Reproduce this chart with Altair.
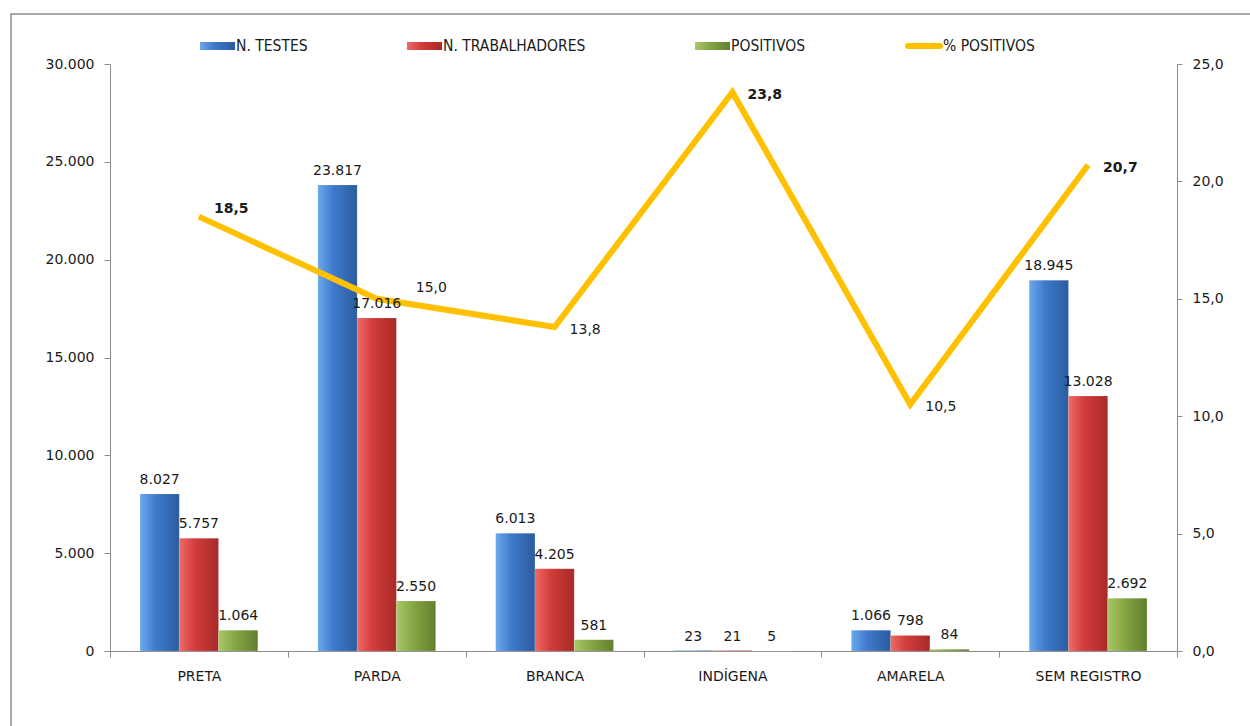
import altair as alt
import pandas as pd

# ---- data ----
categories = ["PRETA", "PARDA", "BRANCA", "INDÍGENA", "AMARELA", "SEM REGISTRO"]
n_testes = [8027, 23817, 6013, 23, 1066, 18945]
n_trabalhadores = [5757, 17016, 4205, 21, 798, 13028]
positivos = [1064, 2550, 581, 5, 84, 2692]
pct_positivos = [18.5, 15.0, 13.8, 23.8, 10.5, 20.7]
series_names = ["N. TESTES", "N. TRABALHADORES", "POSITIVOS"]
line_name = "% POSITIVOS"
bold_categories = ["PRETA", "INDÍGENA", "SEM REGISTRO"]

# ---- layout ----
W, H = 1067, 587
PAD_L, PAD_T = 110, 64
TOTAL_W, TOTAL_H = 1250, 726
FONT = "DejaVu Sans"
NARROW = "Liberation Sans Narrow, DejaVu Sans Condensed, Liberation Sans"
# label nudges (dx, dy) for the % labels, as placed in the original
label_nudge = {"PRETA": (15, -8), "PARDA": (39, -11)}
default_nudge = (15, 3)

def fmt_int(v):
    return f"{v:,}".replace(",", ".")

rows = []
for i, c in enumerate(categories):
    for s, vals in zip(series_names, [n_testes, n_trabalhadores, positivos]):
        rows.append({"category": c, "series": s, "value": vals[i], "label": fmt_int(vals[i])})
bars_df = pd.DataFrame(rows)

line_df = pd.DataFrame({
    "category": categories,
    "pct": pct_positivos,
    "label": [f"{v:.1f}".replace(".", ",") for v in pct_positivos],
})


def grad(c_light, c_mid, c_dark):
    return alt.Gradient(
        gradient="linear", x1=0, x2=1, y1=0, y2=0,
        stops=[alt.GradientStop(color=c_light, offset=0),
               alt.GradientStop(color=c_mid, offset=0.4),
               alt.GradientStop(color=c_dark, offset=1)],
    )

grads = {
    "N. TESTES": grad("#6CA8EE", "#3F7ACB", "#2B5C9E"),
    "N. TRABALHADORES": grad("#EE6A66", "#D23C3A", "#A82A28"),
    "POSITIVOS": grad("#A9C86A", "#86A845", "#637F2E"),
}

x_enc = alt.X(
    "category:N", sort=categories, title=None,
    scale=alt.Scale(domain=categories, paddingInner=0, paddingOuter=0),
    axis=alt.Axis(labelAngle=0, tickBand="extent", domainColor="#8c8c8c", tickColor="#8c8c8c",
                  tickSize=6, labelPadding=12, labelFont=FONT, labelFontSize=14,
                  labelColor="#1a1a1a", grid=False),
)
xoff_enc = alt.XOffset("series:N", sort=series_names,
                       scale=alt.Scale(domain=series_names, paddingInner=0, paddingOuter=0.765))
y_scale = alt.Scale(domain=[0, 30000], nice=False)
y_enc = alt.Y(
    "value:Q", title=None, scale=y_scale,
    axis=alt.Axis(values=[0, 5000, 10000, 15000, 20000, 25000, 30000],
                  labelExpr="replace(format(datum.value, ',.0f'), ',', '.')",
                  domainColor="#8c8c8c", tickColor="#8c8c8c", tickSize=6, labelPadding=10,
                  labelFont=FONT, labelFontSize=14, labelColor="#1a1a1a", grid=False),
)

base_bars = alt.Chart(bars_df)
bar_layers = []
for s in series_names:
    bar_layers.append(
        base_bars.transform_filter(alt.datum.series == s)
        .mark_bar(color=grads[s], stroke="#ffffff", strokeOpacity=0.25, strokeWidth=0.5)
        .encode(x=x_enc, xOffset=xoff_enc, y=y_enc)
    )

# bar value labels are drawn on top of the line (as in the original)
bar_text = base_bars.mark_text(font=FONT, fontSize=14, color="#1a1a1a", baseline="alphabetic", dy=-10).encode(
    x=x_enc, xOffset=xoff_enc, y=alt.Y("value:Q", title=None, scale=y_scale, axis=None), text="label:N")

one = alt.Data(values=[{"k": 1}])
border = alt.Chart(one).mark_rect(fillOpacity=0, stroke="#8c8c8c", strokeWidth=1.5).encode(
    x=alt.value(11 - PAD_L), x2=alt.value(TOTAL_W + 5 - PAD_L),
    y=alt.value(14 - PAD_T), y2=alt.value(TOTAL_H + 5 - PAD_T))

# legend (manual)
legend_x = [90, 297, 585, 795]
legend_layers = []
ly = 46 - PAD_T
for i, s in enumerate(series_names):
    x0 = legend_x[i]
    legend_layers.append(alt.Chart(one).mark_rect(color=grads[s]).encode(
        x=alt.value(x0), x2=alt.value(x0 + 35), y=alt.value(ly - 4), y2=alt.value(ly + 4)))
    legend_layers.append(alt.Chart(one).mark_text(text=s, align="left", baseline="middle", font=NARROW,
                                                  fontSize=15.5, color="#1a1a1a").encode(
        x=alt.value(x0 + 36), y=alt.value(ly)))
x0 = legend_x[3]
legend_layers.append(alt.Chart(one).mark_rule(color="#FFC000", strokeWidth=6, strokeCap="round").encode(
    x=alt.value(x0 + 3), x2=alt.value(x0 + 35), y=alt.value(ly)))
legend_layers.append(alt.Chart(one).mark_text(text=line_name, align="left", baseline="middle", font=NARROW,
                                              fontSize=15.5, color="#1a1a1a").encode(
    x=alt.value(x0 + 38), y=alt.value(ly)))

bar_part = alt.layer(border, *bar_layers, *legend_layers)

y2_enc = alt.Y(
    "pct:Q", title=None, scale=alt.Scale(domain=[0, 25], nice=False),
    axis=alt.Axis(orient="right", values=[0, 5, 10, 15, 20, 25],
                  labelExpr="replace(format(datum.value, '.1f'), '.', ',')",
                  domainColor="#8c8c8c", tickColor="#8c8c8c", tickSize=5, labelPadding=10,
                  labelFont=FONT, labelFontSize=14, labelColor="#1a1a1a", grid=False),
)
base_line = alt.Chart(line_df)
line = base_line.mark_line(color="#FFC000", strokeWidth=6, strokeJoin="miter").encode(x=x_enc, y=y2_enc)
line_texts = []
for c in categories:
    dx, dy = label_nudge.get(c, default_nudge)
    line_texts.append(
        base_line.transform_filter(alt.datum.category == c).mark_text(
            font=FONT, fontSize=14, fontWeight="bold" if c in bold_categories else "normal",
            color="#1a1a1a", align="left", baseline="middle", dx=dx, dy=dy
        ).encode(x=x_enc, y=y2_enc, text="label:N")
    )
line_part = alt.layer(line, *line_texts)

chart = alt.layer(bar_part, line_part, bar_text).resolve_scale(y="independent").properties(
    width=W, height=H,
    autosize=alt.AutoSizeParams(type="none"),
    padding={"left": PAD_L, "top": PAD_T, "right": TOTAL_W - PAD_L - W, "bottom": TOTAL_H - PAD_T - H},
    background="white",
).configure_view(stroke=None)

chart.save("out.html", embed_options={"renderer": "svg", "actions": False})
